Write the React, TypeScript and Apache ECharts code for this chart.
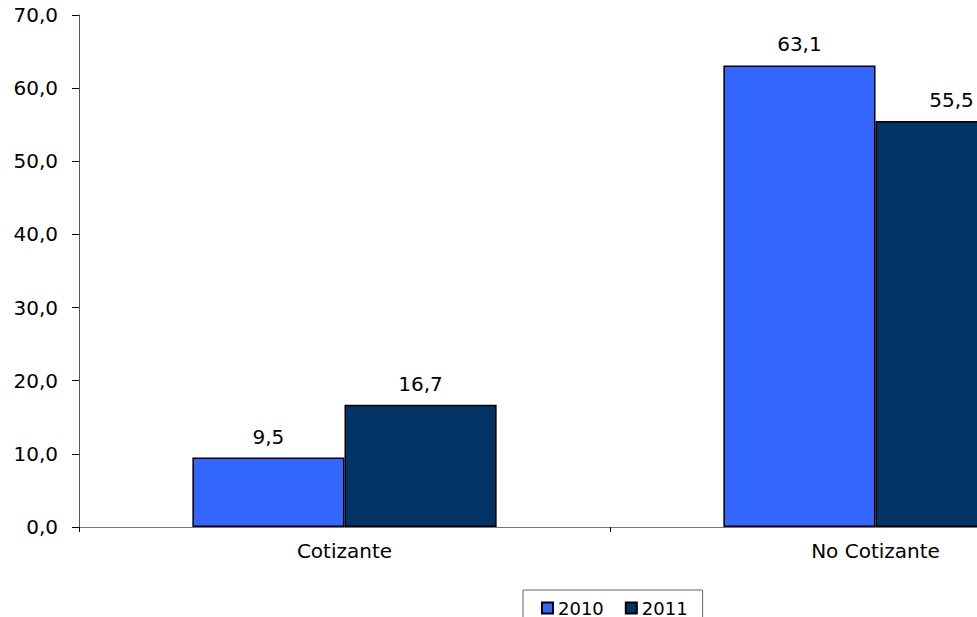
import React, { useEffect, useRef } from "react";
import * as echarts from "echarts";

const categories = ["Cotizante", "No Cotizante"];
const seriesNames = ["2010", "2011"];
const values2010 = [9.5, 63.1];
const values2011 = [16.7, 55.5];
const seriesColors = ["#3366FF", "#003366"];

const fmt = (v: number) => v.toFixed(1).replace(".", ",");
const FONT = "DejaVu Sans";

export default function App() {
  const ref = useRef<HTMLDivElement>(null);
  useEffect(() => {
    const chart = echarts.init(ref.current!, undefined, { renderer: "svg" });
    const mkSeries = (name: string, data: number[], color: string) => ({
      name,
      type: "bar",
      data,
      barGap: "0%",
      barCategoryGap: "42.7%",
      itemStyle: { color, borderColor: "#000", borderWidth: 1.5 },
      label: {
        show: true,
        position: "top",
        distance: 11,
        formatter: (p: any) => fmt(p.value),
        color: "#000",
        fontFamily: FONT,
        fontSize: 20,
      },
    });
    chart.setOption({
      animation: false,
      backgroundColor: "#fff",
      grid: { left: 79, top: 15, bottom: 90, right: 9, containLabel: false },
      legend: {
        data: seriesNames,
        left: 523,
        top: 590,
        orient: "horizontal",
        borderColor: "#666",
        borderWidth: 1,
        padding: [9, 15, 9, 18],
        itemWidth: 11,
        itemHeight: 11,
        itemGap: 21,
        icon: "rect",
        textStyle: { fontFamily: FONT, fontSize: 18, color: "#000" },
      },
      xAxis: {
        type: "category",
        data: categories,
        axisLine: { lineStyle: { color: "#777", width: 1 } },
        axisTick: { show: true, length: 5, lineStyle: { color: "#000" }, alignWithLabel: false },
        axisLabel: { fontFamily: FONT, fontSize: 20, color: "#000", margin: 14 },
        splitLine: { show: false },
      },
      yAxis: {
        type: "value",
        min: 0,
        max: 70,
        interval: 10,
        axisLine: { show: true, lineStyle: { color: "#555", width: 1 } },
        axisTick: { show: true, length: 7, lineStyle: { color: "#000" } },
        axisLabel: {
          fontFamily: FONT,
          fontSize: 20,
          color: "#000",
          margin: 21,
          formatter: (v: number) => fmt(v),
        },
        splitLine: { show: false },
      },
      series: [
        mkSeries(seriesNames[0], values2010, seriesColors[0]),
        mkSeries(seriesNames[1], values2011, seriesColors[1]),
      ],
    });
    return () => chart.dispose();
  }, []);
  return (
    <div style={{ position: "fixed", left: 0, top: 0, width: 977, height: 617, overflow: "hidden" }}>
      <div ref={ref} style={{ width: 1150, height: 617 }} />
    </div>
  );
}
